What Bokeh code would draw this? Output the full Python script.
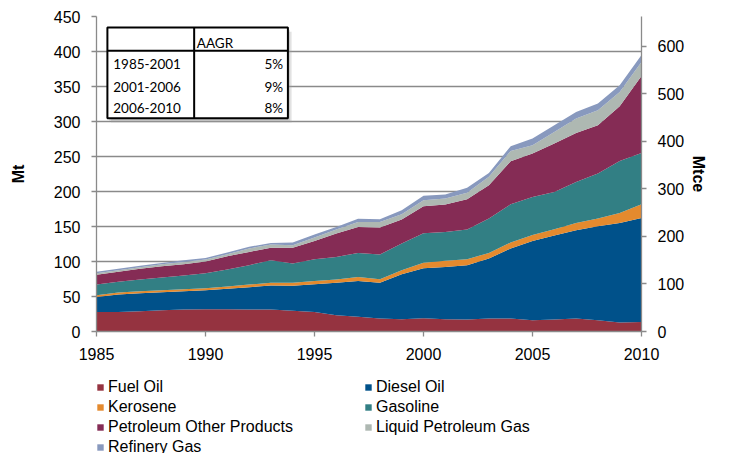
from bokeh.plotting import figure
from bokeh.layouts import column
from bokeh.models import Range1d, LinearAxis, FixedTicker, ColumnDataSource, Legend
from bokeh.core.properties import value
from bokeh.embed import file_html
from bokeh.resources import INLINE

years = list(range(1985, 2011))
fuel_oil = [28.0, 28.0, 29.0, 30.4, 31.4, 31.9, 31.9, 31.4, 31.4, 29.5, 28.0, 23.3, 20.9, 18.6, 17.6, 19.0, 17.6, 17.1, 18.6, 18.6, 16.1, 17.1, 18.6, 16.1, 12.9, 13.7]
diesel_oil = [21.4, 24.8, 25.7, 25.7, 26.2, 27.1, 29.0, 31.9, 34.3, 35.7, 39.6, 46.2, 51.4, 50.9, 64.3, 71.5, 74.7, 77.4, 85.7, 100.0, 113.3, 120.0, 126.1, 134.3, 142.2, 148.6]
kerosene = [2.5, 2.9, 2.9, 2.9, 2.8, 2.9, 3.4, 3.8, 3.8, 4.3, 4.7, 4.8, 5.7, 5.2, 5.7, 7.8, 8.6, 8.6, 8.0, 8.5, 8.6, 9.0, 10.4, 11.0, 14.3, 19.6]
gasoline = [15.2, 15.2, 16.7, 18.1, 19.6, 21.4, 24.3, 27.6, 32.4, 27.6, 31.0, 32.3, 34.3, 35.3, 38.1, 42.2, 41.4, 42.7, 49.1, 54.8, 54.3, 53.3, 58.6, 64.3, 74.3, 73.2]
other_products = [13.8, 14.3, 15.2, 16.2, 16.1, 16.7, 19.0, 19.0, 17.6, 22.4, 26.1, 33.4, 37.1, 38.6, 34.3, 38.5, 39.1, 43.0, 47.6, 61.4, 62.0, 69.2, 70.0, 69.0, 78.2, 110.0]
lpg = [2.4, 2.4, 2.4, 2.8, 3.3, 2.8, 2.8, 4.9, 4.8, 3.8, 4.9, 5.7, 7.2, 8.0, 7.6, 8.6, 8.6, 9.5, 11.9, 14.7, 11.8, 16.5, 20.6, 21.4, 20.4, 20.0]
refinery_gas = [1.9, 1.9, 1.9, 1.9, 2.5, 2.2, 2.5, 2.3, 2.3, 3.8, 4.3, 3.7, 4.3, 3.8, 5.7, 6.2, 5.7, 7.2, 5.7, 6.7, 9.6, 9.6, 9.4, 9.6, 9.6, 9.9]

series_names = ["Fuel Oil", "Diesel Oil", "Kerosene", "Gasoline",
                "Petroleum Other Products", "Liquid Petroleum Gas", "Refinery Gas"]
series_colors = ["#953340", "#00518A", "#E48A2E", "#327F84", "#852C55", "#AEB8B2", "#8899BE"]

x_ticks = [1985, 1990, 1995, 2000, 2005, 2010]
mt_ticks = [0, 50, 100, 150, 200, 250, 300, 350, 400, 450]
mtce_ticks = [0, 100, 200, 300, 400, 500, 600]
MTCE_PER_MT = 1.4714

table_periods = ["1985-2001", "2001-2006", "2006-2010"]
table_aagr = ["5%", "9%", "8%"]
table_header = "AAGR"

FONT = "Liberation Sans"
TFONT = "Lato"

p = figure(width=718, height=372, output_backend="svg", toolbar_location=None,
           x_range=Range1d(1985, 2010), y_range=Range1d(0, 450),
           min_border_left=87, min_border_right=77, min_border_top=16, min_border_bottom=41)
p.outline_line_color = None
p.background_fill_color = "white"

src = ColumnDataSource(dict(year=years, s0=fuel_oil, s1=diesel_oil, s2=kerosene, s3=gasoline,
                            s4=other_products, s5=lpg, s6=refinery_gas))
keys = ["s0", "s1", "s2", "s3", "s4", "s5", "s6"]
renderers = p.varea_stack(stackers=keys, x="year", color=series_colors, source=src)

# axes
p.xaxis.ticker = FixedTicker(ticks=x_ticks)
p.yaxis.ticker = FixedTicker(ticks=mt_ticks)
p.xgrid.visible = False
p.ygrid.grid_line_color = "#8a8a8a"
p.ygrid.grid_line_width = 1.3
p.ygrid.level = "underlay"

p.extra_y_ranges = {"mtce": Range1d(0, 450 * MTCE_PER_MT)}
ax_r = LinearAxis(y_range_name="mtce", ticker=FixedTicker(ticks=mtce_ticks))
p.add_layout(ax_r, "right")

for ax in [p.xaxis[0], p.yaxis[0], ax_r]:
    ax.axis_line_color = "#8a8a8a"
    ax.axis_line_width = 1.3
    ax.major_tick_line_color = "#8a8a8a"
    ax.major_tick_line_width = 1.3
    ax.major_tick_out = 5
    ax.major_tick_in = 0
    ax.minor_tick_line_color = None
    ax.major_label_text_font = FONT
    ax.major_label_text_font_size = "16px"
    ax.major_label_text_color = "#000000"
    ax.axis_label_text_font = FONT
    ax.axis_label_text_font_size = "16px"
    ax.axis_label_text_font_style = "bold"
    ax.axis_label_text_color = "#000000"
    ax.major_label_standoff = 11

p.yaxis[0].axis_label = "Mt"
p.yaxis[0].axis_label_standoff = 24
ax_r.axis_label = "Mtce"
ax_r.axis_label_standoff = 3

# inset table
T_L, T_R, T_DIV = 1985.5, 1993.78, 1989.48
T_TOP, T_HDR, T_BOT = 434.2, 400.9, 304.5
SH_X, SH_Y = 0.17, 6.0
p.quad(left=T_L + SH_X, right=T_R + SH_X, top=T_TOP - SH_Y, bottom=T_BOT - SH_Y,
       fill_color="#a0a0a0", fill_alpha=0.3, line_color=None)
p.quad(left=T_L + SH_X * 0.5, right=T_R + SH_X * 0.5, top=T_TOP - SH_Y * 0.5, bottom=T_BOT - SH_Y * 0.5,
       fill_color="#808080", fill_alpha=0.3, line_color=None)
p.quad(left=T_L, right=T_R, top=T_TOP, bottom=T_BOT, fill_color="white",
       line_color="black", line_width=2)
p.segment(x0=[T_L, T_DIV], y0=[T_HDR, T_TOP], x1=[T_R, T_DIV], y1=[T_HDR, T_BOT],
          line_color="black", line_width=2)
row_y = [382.3, 349.4, 319.4]
p.text(x=[1989.6], y=[411.8], text=[table_header], text_font=value(TFONT),
       text_font_size="13.5px", text_baseline="middle", text_align="left", text_color="#000000")
p.text(x=[1985.77] * 3, y=row_y, text=table_periods, text_font=value(TFONT),
       text_font_size="13.5px", text_baseline="middle", text_align="left", text_color="#000000")
p.text(x=[1993.56] * 3, y=row_y, text=table_aagr, text_font=value(TFONT),
       text_font_size="13.5px", text_baseline="middle", text_align="right", text_color="#000000")

# legend in its own strip under the chart
pl = figure(width=718, height=81, output_backend="svg", toolbar_location=None,
            x_range=Range1d(0, 1), y_range=Range1d(0, 1),
            x_axis_location=None, y_axis_location=None,
            min_border_left=96, min_border_right=0, min_border_top=5, min_border_bottom=0)
pl.grid.visible = False
pl.outline_line_color = None
leg_renderers = [pl.varea(x=[0, 1], y1=[0, 0], y2=[0, 0], color=c) for c in series_colors]
legend = Legend(items=[(n, [r]) for n, r in zip(series_names, leg_renderers)],
                location="top_left", orientation="horizontal", ncols=2,
                glyph_width=8, glyph_height=8, label_standoff=4, label_width=256,
                label_height=20, spacing=0, padding=0, margin=0,
                border_line_color=None, background_fill_alpha=0,
                label_text_font=FONT, label_text_font_size="16px", label_text_color="#000000")
pl.add_layout(legend, "center")

layout = column(p, pl, spacing=0)
open("out.html", "w").write(file_html(layout, INLINE))
